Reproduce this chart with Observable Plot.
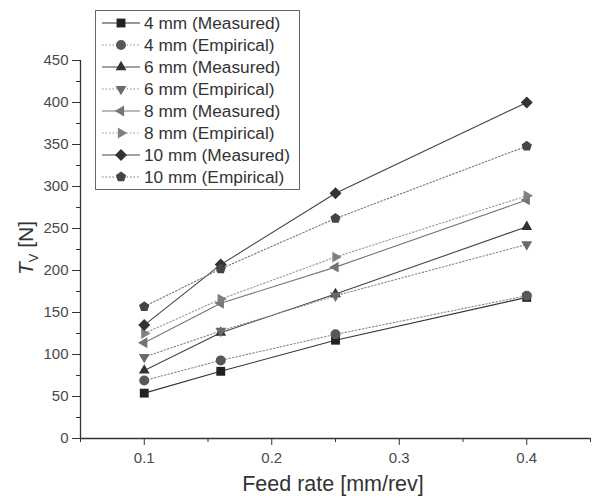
<!DOCTYPE html>
<html>
<head>
<meta charset="utf-8">
<script src="https://cdn.jsdelivr.net/npm/d3@7"></script>
<script src="https://cdn.jsdelivr.net/npm/@observablehq/plot@0.6"></script>
<style>
  html, body { margin: 0; padding: 0; background: #fff; }
  #wrap { position: relative; width: 597px; height: 498px; font-family: "Liberation Sans", Arial, sans-serif; }
  #legend { position: absolute; left: 95px; top: 10px; width: 205px; height: 180px; border: 1px solid #666; background: #fff; box-sizing: border-box; padding-top: 1px; }
  .row { display: flex; align-items: center; height: 22px; }
  .row span { font-size: 17.3px; color: #333; margin-left: 3px; white-space: nowrap; }
</style>
</head>
<body>
<div id="wrap"><div id="legend"></div></div>
<script>
// ---- data ----
const feedRates = [0.1, 0.16, 0.25, 0.4];
const m4  = [54, 80, 117, 168];
const e4  = [69, 93, 124, 170];
const m6  = [81, 126, 172, 252];
const e6  = [97, 128, 170, 231];
const m8  = [114, 161, 204, 284];
const e8  = [125, 166, 216, 289];
const m10 = [135, 207, 292, 400];
const e10 = [157, 202, 262, 348];
const seriesNames = ["4 mm (Measured)", "4 mm (Empirical)", "6 mm (Measured)", "6 mm (Empirical)",
                     "8 mm (Measured)", "8 mm (Empirical)", "10 mm (Measured)", "10 mm (Empirical)"];
const seriesValues = [m4, e4, m6, e6, m8, e8, m10, e10];
const xMajorTicks = [0.1, 0.2, 0.3, 0.4];
const xMinorTicks = [0.05, 0.15, 0.25, 0.35, 0.45];
const yMajorTicks = [0, 50, 100, 150, 200, 250, 300, 350, 400, 450];
const yMinorTicks = [25, 75, 125, 175, 225, 275, 325, 375, 425];

// ---- custom symbols ----
function poly(pts) {
  return { draw(ctx, size) {
    const r = Math.sqrt(size / Math.PI);
    pts.forEach(([a, k], i) => {
      const x = Math.cos(a) * r * k, y = Math.sin(a) * r * k;
      i ? ctx.lineTo(x, y) : ctx.moveTo(x, y);
    });
    ctx.closePath();
  }};
}
const deg = d => d * Math.PI / 180;
const triUp    = poly([[deg(-90), 1.25], [deg(30), 1.25], [deg(150), 1.25]]);
const triDown  = poly([[deg(90), 1.25], [deg(210), 1.25], [deg(330), 1.25]]);
const triLeft  = poly([[deg(180), 1.25], [deg(300), 1.25], [deg(60), 1.25]]);
const triRight = poly([[deg(0), 1.25], [deg(120), 1.25], [deg(240), 1.25]]);
const pentagon = poly([0,1,2,3,4].map(i => [deg(-90 + 72 * i), 1.08]));
const diamond = poly([[deg(-90), 1.2], [deg(0), 1.2], [deg(90), 1.2], [deg(180), 1.2]]);

const styles = [
  { symbol: d3.symbolSquare, fill: "#222", stroke: "#333", dash: null },
  { symbol: d3.symbolCircle, fill: "#575757", stroke: "#888", dash: "1.5,2" },
  { symbol: triUp, fill: "#333", stroke: "#444", dash: null },
  { symbol: triDown, fill: "#6a6a6a", stroke: "#888", dash: "1.5,2" },
  { symbol: triLeft, fill: "#747474", stroke: "#777", dash: null },
  { symbol: triRight, fill: "#808080", stroke: "#999", dash: "1.5,2" },
  { symbol: diamond, fill: "#333", stroke: "#444", dash: null },
  { symbol: pentagon, fill: "#454545", stroke: "#777", dash: "1.5,2" }
];

const rows = [];
seriesNames.forEach((name, s) => {
  seriesValues[s].forEach((v, i) => rows.push({ series: name, s, x: feedRates[i], y: v }));
});

const marks = [];
seriesNames.forEach((name, s) => {
  const data = rows.filter(d => d.s === s);
  marks.push(Plot.line(data, { x: "x", y: "y", stroke: styles[s].stroke, strokeWidth: 1.1, strokeDasharray: styles[s].dash }));
});
seriesNames.forEach((name, s) => {
  const data = rows.filter(d => d.s === s);
  marks.push(Plot.dot(data, { x: "x", y: "y", r: 5, symbol: () => styles[s].symbol, fill: styles[s].fill, stroke: "none" }));
});

const chart = Plot.plot({
  width: 597,
  height: 498,
  marginLeft: 80,
  marginRight: 7,
  marginTop: 60,
  marginBottom: 60,
  style: { fontFamily: "Liberation Sans, Arial, sans-serif", fontSize: "15px", background: "#fff", color: "#333" },
  x: { domain: [0.05, 0.45] },
  y: { domain: [0, 450] },
  symbol: { type: "identity" },
  marks: [
    Plot.axisX({ ticks: xMajorTicks, tickSize: 7, tickPadding: 7, tickFormat: d3.format(".1f"), label: null, stroke: "#333", fill: "#4a4a4a" }),
    Plot.axisX({ ticks: xMinorTicks, tickSize: 4, tickFormat: () => "", label: null, stroke: "#333" }),
    Plot.axisY({ ticks: yMajorTicks, tickSize: 8, tickPadding: 4, label: null, stroke: "#333", fill: "#4a4a4a" }),
    Plot.axisY({ ticks: yMinorTicks, tickSize: 4, tickFormat: () => "", label: null, stroke: "#333" }),
    Plot.ruleX([0.05], { stroke: "#333", strokeWidth: 1.3 }),
    Plot.ruleY([0], { stroke: "#333", strokeWidth: 1.3 }),
    ...marks
  ]
});

const svg = d3.select(chart);
svg.selectAll("text").style("font-size", "15px");
svg.append("text")
  .attr("x", 333).attr("y", 491)
  .attr("text-anchor", "middle")
  .style("font-size", "21.5px").attr("fill", "#333")
  .text("Feed rate [mm/rev]");
const yl = svg.append("text")
  .attr("transform", "translate(33,248) rotate(-90)")
  .attr("text-anchor", "middle")
  .style("font-size", "21px").attr("fill", "#333");
yl.append("tspan").attr("font-style", "italic").text("T");
yl.append("tspan").style("font-size", "13px").attr("dy", 5).text("V");
yl.append("tspan").attr("dy", -5).text(" [N]");

const wrap = document.getElementById("wrap");
wrap.insertBefore(chart, wrap.firstChild);
chart.style.position = "absolute";
chart.style.left = "0";
chart.style.top = "0";

// legend
const legend = d3.select("#legend");
seriesNames.forEach((name, s) => {
  const row = legend.append("div").attr("class", "row");
  const sv = row.append("svg").attr("width", 45).attr("height", 22);
  sv.append("line").attr("x1", 6).attr("x2", 44).attr("y1", 11).attr("y2", 11)
    .attr("stroke", styles[s].stroke).attr("stroke-width", 1.1)
    .attr("stroke-dasharray", styles[s].dash);
  sv.append("path").attr("transform", "translate(25,11)")
    .attr("d", d3.symbol().type(styles[s].symbol).size(Math.PI * 25)())
    .attr("fill", styles[s].fill);
  row.append("span").text(name);
});
</script>
</body>
</html>
